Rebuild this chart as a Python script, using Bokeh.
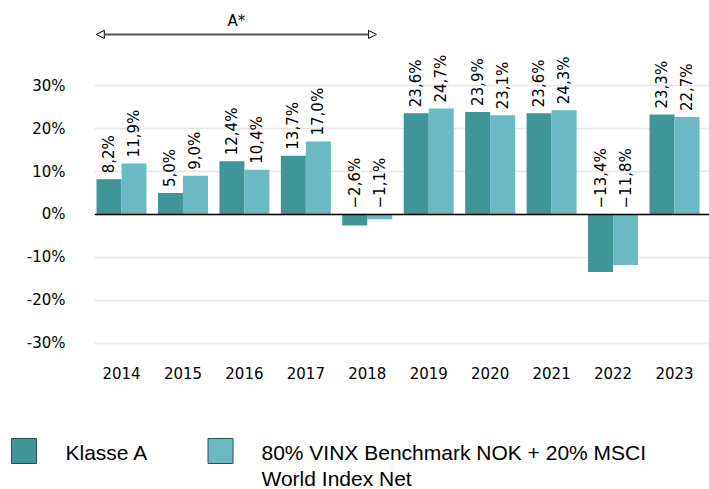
from bokeh.plotting import figure
from bokeh.models import (ColumnDataSource, Range1d, FixedTicker, Span, Arrow, NormalHead,
                          Label)
from bokeh.transform import dodge
from bokeh.core.properties import value
from bokeh.embed import file_html
from bokeh.resources import INLINE
import math

years = [2014, 2015, 2016, 2017, 2018, 2019, 2020, 2021, 2022, 2023]
klasse_a = [8.2, 5.0, 12.4, 13.7, -2.6, 23.6, 23.9, 23.6, -13.4, 23.3]
benchmark = [11.9, 9.0, 10.4, 17.0, -1.1, 24.7, 23.1, 24.3, -11.8, 22.7]
y_ticks = [-30, -20, -10, 0, 10, 20, 30]
series_names = ["Klasse A", "80% VINX Benchmark NOK + 20% MSCI\nWorld Index Net"]
colors = ["#409596", "#6bb9c3"]


def fmt(v):
    return f"{v:.1f}".replace(".", ",").replace("-", "\u2212") + "%"


src = ColumnDataSource(dict(
    year=years,
    a=klasse_a,
    b=benchmark,
    a_lab=[fmt(v) for v in klasse_a],
    b_lab=[fmt(v) for v in benchmark],
    a_pos=[max(v, 0) for v in klasse_a],
    b_pos=[max(v, 0) for v in benchmark],
))

p = figure(width=709, height=426, output_backend="svg", toolbar_location=None,
           x_range=Range1d(2013.56, 2023.57), y_range=Range1d(-32.17, 48.0),
           min_border_left=94, min_border_right=0, min_border_top=8, min_border_bottom=74)
p.outline_line_color = None

bw = 0.407
off = bw / 2
p.vbar(x=dodge("year", -off), top="a", bottom=0, width=bw, source=src,
       fill_color=colors[0], line_color=None)
p.vbar(x=dodge("year", off), top="b", bottom=0, width=bw, source=src,
       fill_color=colors[1], line_color=None)

for col, lab, d in (("a_pos", "a_lab", -off), ("b_pos", "b_lab", off)):
    p.text(x=dodge("year", d), y=col, text=lab, source=src, angle=math.pi / 2,
           text_align="left", text_baseline="middle", y_offset=-6,
           text_font=value("DejaVu Sans"), text_font_size="15px", text_color="#000000")

p.add_layout(Span(location=0, dimension="width", line_color="#000000", line_width=1.5))

# axes
p.xaxis.ticker = FixedTicker(ticks=years)
p.xaxis.major_label_overrides = {y: str(y) for y in years}
p.xaxis.axis_line_color = None
p.xaxis.major_tick_line_color = None
p.xaxis.minor_tick_line_color = None
p.xaxis.major_label_standoff = 8
p.xaxis.major_label_text_font = "DejaVu Sans"
p.xaxis.major_label_text_font_size = "15px"
p.xaxis.major_label_text_color = "#000000"

p.yaxis.ticker = FixedTicker(ticks=y_ticks)
p.yaxis.major_label_overrides = {t: f"{t}%" for t in y_ticks}
p.yaxis.axis_line_color = None
p.yaxis.major_tick_line_color = None
p.yaxis.minor_tick_line_color = None
p.yaxis.major_label_standoff = 23
p.yaxis.major_label_text_font = "DejaVu Sans"
p.yaxis.major_label_text_font_size = "15px"
p.yaxis.major_label_text_color = "#000000"

p.xgrid.grid_line_color = None
p.ygrid.grid_line_color = "#e6e6e6"
p.ygrid.grid_line_width = 1.5

# period annotation
head = dict(size=8, fill_color="white", line_color="#000000", line_width=1)
p.add_layout(Arrow(x_start=2013.59, y_start=41.96, x_end=2018.15, y_end=41.96,
                   start=NormalHead(**head), end=NormalHead(**head),
                   line_color="#555555", line_width=2))
p.add_layout(Label(x=(2013.59 + 2018.15) / 2, y=45.2, text="A*", text_align="center",
                   text_baseline="middle", text_font="DejaVu Sans", text_font_size="15px",
                   text_color="#000000"))

# legend strip below the chart (pixel-like coordinates, y upwards)
lg = figure(width=709, height=63, output_backend="svg", toolbar_location=None,
            x_range=Range1d(0, 709), y_range=Range1d(0, 63),
            x_axis_type=None, y_axis_type=None,
            min_border_left=0, min_border_right=0, min_border_top=0, min_border_bottom=0)
lg.outline_line_color = None
lg.xgrid.visible = False
lg.ygrid.visible = False

swatch_left = [11, 207.5]
text_left = [65, 261]
lg.quad(left=swatch_left, right=[x + 25 for x in swatch_left], top=51, bottom=26,
        fill_color=colors, line_color="#2f4f4f", line_width=1)
for name, tx in zip(series_names, text_left):
    for i, line in enumerate(name.split("\n")):
        lg.add_layout(Label(x=tx, y=37.3 - 26 * i, text=line, text_align="left",
                            text_baseline="alphabetic", text_font="Liberation Sans",
                            text_font_size="21px", text_color="#000000"))

open("out.html", "w").write(file_html([p, lg], INLINE))
